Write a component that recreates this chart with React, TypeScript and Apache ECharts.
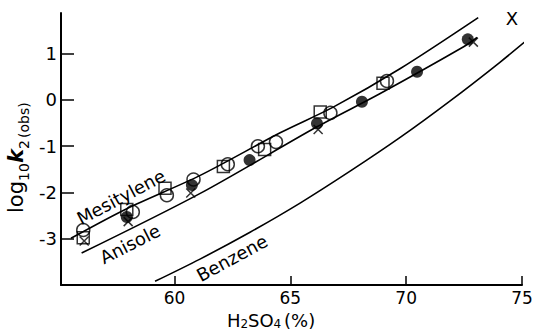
import React, { useEffect, useRef } from "react";
import * as echarts from "echarts";

// Tick values
const xTicks = [60, 65, 70, 75];
const yTicks = [-3, -2, -1, 0, 1];

// Fitted curves [H2SO4 %, log10 k2]
const mesityleneCurve = [
  [55.53, -2.99], [57.94, -2.35], [61.11, -1.63], [64.56, -0.71],
  [66.87, -0.15], [69.75, 0.68], [73.11, 1.78],
];
const anisoleCurve = [
  [55.99, -3.31], [61.11, -2.02], [66.15, -0.58], [68.88, 0.14],
  [72.48, 1.15], [73.06, 1.35],
];
const benzeneCurve = [
  [59.16, -3.92], [61.1, -3.44], [63.26, -2.86], [65.42, -2.23],
  [67.58, -1.54], [69.74, -0.81], [71.9, -0.02], [74.06, 0.82], [75.61, 1.46],
];

// Observed points
const openCircles = [
  [56.06, -2.81], [58.2, -2.42], [59.67, -2.06], [60.82, -1.72], [62.3, -1.39],
  [63.6, -1.0], [64.38, -0.91], [66.73, -0.28], [69.17, 0.41],
];
const openSquares = [
  [56.06, -2.98], [57.94, -2.37], [59.59, -1.91], [62.11, -1.44],
  [63.89, -1.07], [66.29, -0.26], [69.0, 0.36],
];
const filledCircles = [
  [57.94, -2.53], [60.75, -1.84], [63.24, -1.3], [66.15, -0.51],
  [68.09, -0.04], [70.47, 0.61], [72.66, 1.31],
];
const crosses = [
  [56.1, -3.05], [58.0, -2.63], [60.7, -2.01], [66.2, -0.64], [72.9, 1.25],
];

const FONT = "DejaVu Sans";

const txt = (text: string, x: number, y: number, size: number, extra: any = {}) => ({
  type: "text",
  x,
  y,
  style: {
    text,
    fontFamily: FONT,
    fontSize: size,
    fill: "#000",
    align: "left",
    verticalAlign: "middle",
    ...extra,
  },
});

export default function App() {
  const ref = useRef<HTMLDivElement>(null);
  useEffect(() => {
    if (!ref.current) return;
    const chart = echarts.init(ref.current, null, { renderer: "svg" });
    const lineSeries = (name: string, data: number[][]) => ({
      name,
      type: "line",
      data,
      smooth: 0.3,
      showSymbol: false,
      lineStyle: { color: "#000", width: 1.6 },
      z: 2,
    });
    chart.setOption({
      animation: false,
      backgroundColor: "#fff",
      grid: { left: 61, right: 15, top: 13, bottom: 46 },
      xAxis: {
        type: "value",
        min: 55.1,
        max: 75,
        splitLine: { show: false },
        axisLine: { onZero: false, lineStyle: { color: "#000", width: 2 } },
        axisTick: {
          inside: true,
          length: 9,
          customValues: xTicks,
          lineStyle: { color: "#000", width: 1.5 },
        },
        axisLabel: {
          customValues: xTicks,
          color: "#000",
          fontFamily: FONT,
          fontSize: 17,
          margin: 4,
        },
      },
      yAxis: {
        type: "value",
        min: -4,
        max: 1.88,
        splitLine: { show: false },
        axisLine: { onZero: false, lineStyle: { color: "#000", width: 2 } },
        axisTick: {
          inside: true,
          length: 13,
          customValues: yTicks,
          lineStyle: { color: "#000", width: 1.5 },
        },
        axisLabel: {
          customValues: yTicks,
          color: "#000",
          fontFamily: FONT,
          fontSize: 18,
          margin: 4,
        },
      },
      series: [
        lineSeries("Mesitylene", mesityleneCurve),
        lineSeries("Anisole", anisoleCurve),
        lineSeries("Benzene", benzeneCurve),
        {
          type: "scatter",
          data: openCircles,
          symbol: "circle",
          symbolSize: 13,
          itemStyle: { color: "transparent", borderColor: "#000", borderWidth: 1.5 },
          z: 3,
        },
        {
          type: "scatter",
          data: openSquares,
          symbol: "rect",
          symbolSize: 12,
          itemStyle: { color: "transparent", borderColor: "#000", borderWidth: 1.5 },
          z: 3,
        },
        {
          type: "scatter",
          data: filledCircles,
          symbol: "circle",
          symbolSize: 12,
          itemStyle: { color: "#000" },
          z: 4,
        },
        {
          type: "scatter",
          data: crosses,
          symbol: "path://M0,0L10,10M10,0L0,10",
          symbolSize: 9,
          itemStyle: { color: "transparent", borderColor: "#000", borderWidth: 1.5 },
          z: 4,
        },
      ],
      graphic: [
        {
          ...txt("Mesitylene", 121, 197, 18, { align: "center" }),
          rotation: (28 * Math.PI) / 180,
        },
        {
          ...txt("Anisole", 130, 244, 18, { align: "center" }),
          rotation: (27 * Math.PI) / 180,
        },
        {
          ...txt("Benzene", 232, 258, 18, { align: "center" }),
          rotation: (28.5 * Math.PI) / 180,
        },
        txt("X", 512, 18, 18, { align: "center" }),
        // x-axis title: H2SO4 (%)
        txt("H", 227, 320, 18),
        txt("2", 240.5, 330, 12, { verticalAlign: "bottom" }),
        txt("SO", 248, 320, 18),
        txt("4", 273.6, 330, 12, { verticalAlign: "bottom" }),
        txt("(%)", 284, 320, 18),
        // y-axis title: log10 k2 (obs), rotated
        {
          type: "group",
          x: 16,
          y: 157,
          rotation: Math.PI / 2,
          children: [
            txt("log", -56, 0, 21),
            txt("10", -24, 8, 14),
            txt("k", -6, 0, 21, { fontStyle: "italic", fontWeight: "bold" }),
            txt("2", 8, 8, 14),
            txt("(obs)", 19, 8, 14),
          ],
        },
      ],
    });
    return () => chart.dispose();
  }, []);
  return <div ref={ref} style={{ width: 537, height: 331, position: "absolute", left: 0, top: 0 }} />;
}
